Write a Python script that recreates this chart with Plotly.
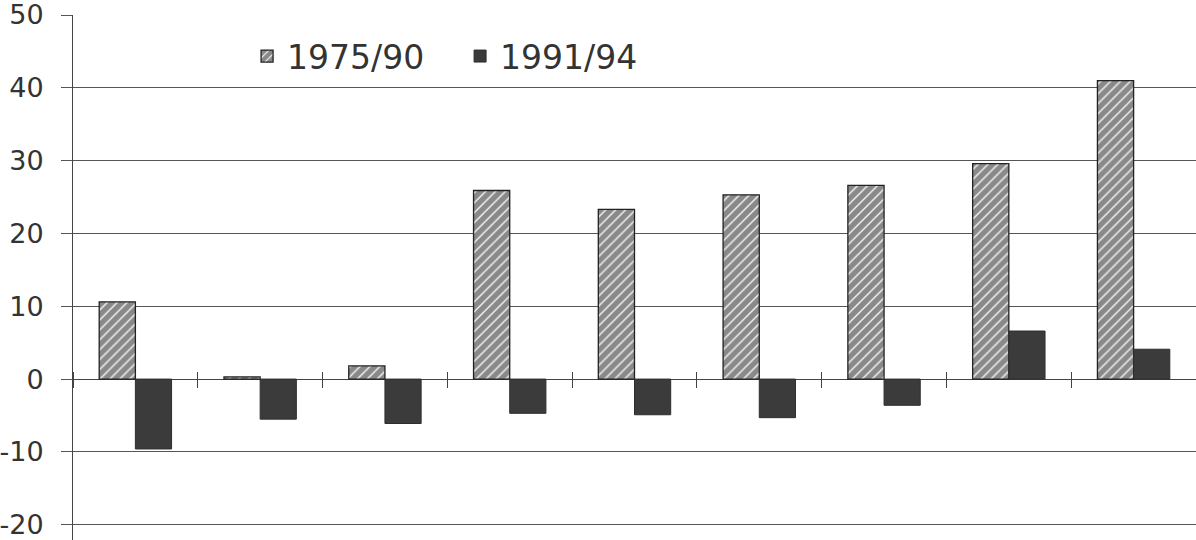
import plotly.graph_objects as go

categories = ["1", "2", "3", "4", "5", "6", "7", "8", "9"]
series_1975_90 = [10.6, 0.3, 1.8, 25.9, 23.3, 25.3, 26.6, 29.6, 41.0]
series_1991_94 = [-9.6, -5.5, -6.1, -4.7, -4.9, -5.3, -3.6, 6.6, 4.1]
y_ticks = [-20, -10, 0, 10, 20, 30, 40, 50]
y_tick_text = ["-20", "-10", "0", "10", "20", "30", "40", "50"]

y_min, y_max = -22.1, 50
W, H = 1196, 540
M_L, M_R, M_T, M_B = 73, 0, 15, 0
plot_h = H - M_T - M_B

fig = go.Figure()
fig.add_trace(go.Bar(
    x=categories, y=series_1975_90, name="1975/90",
    marker=dict(color="white", line=dict(color="#222", width=1.3),
                pattern=dict(shape="/", fgcolor="#1e1e1e", bgcolor="#f4f4f4", size=7, solidity=0.8)),
))
fig.add_trace(go.Bar(
    x=categories, y=series_1991_94, name="1991/94",
    marker=dict(color="#3b3b3b", line=dict(color="#2e2e2e", width=1)),
))

zero_pos = (0 - y_min) / (y_max - y_min)
tick_half = 8
axis_pos = zero_pos + tick_half / plot_h  # axis sits above zero so its ticks cross the zero line

fig.update_layout(
    width=W, height=H,
    margin=dict(l=M_L, r=M_R, t=M_T, b=M_B, autoexpand=False),
    paper_bgcolor="white", plot_bgcolor="white",
    barmode="group", bargap=0.42, bargroupgap=0,
    font=dict(family="DejaVu Sans, sans-serif", color="#333"),
    legend=dict(orientation="h", x=0.155, y=0.975, xanchor="left", yanchor="top",
                font=dict(size=33, color="#333"), bgcolor="rgba(0,0,0,0)",
                entrywidth=168, tracegroupgap=0),
    showlegend=True,
    xaxis=dict(type="category", showticklabels=False, showgrid=False,
               anchor="free", position=axis_pos, automargin=False,
               showline=False,
               ticks="outside", ticklen=2 * tick_half, tickcolor="#444", tickwidth=1,
               tickson="boundaries", range=[-0.5, 8.5]),
    yaxis=dict(range=[y_min, y_max], tickvals=y_ticks, ticktext=y_tick_text,
               showgrid=True, automargin=False, ticklabeloverflow="allow",
               gridcolor="#555", gridwidth=1,
               zeroline=True, zerolinecolor="#444", zerolinewidth=1,
               showline=True, linecolor="#444", linewidth=1,
               ticks="outside", ticklen=11, tickcolor="#555",
               ticklabelstandoff=12,
               tickfont=dict(size=27, color="#333")),
)

fig.write_html("out.html", config={"displayModeBar": False},
               post_script="document.body.style.margin='0';")
